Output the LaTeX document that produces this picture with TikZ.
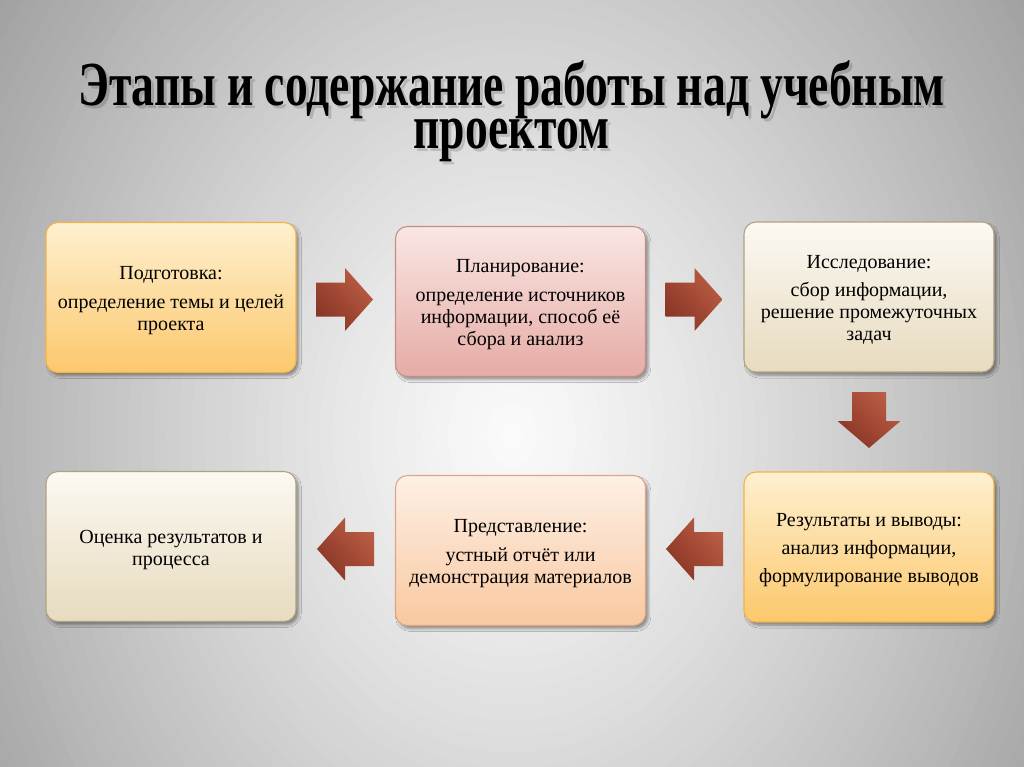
\documentclass[tikz,border=0pt]{standalone}
\usepackage{fontspec}
\setmainfont{Liberation Serif}
\usetikzlibrary{shadows.blur,shadings}
\newsavebox\titlebox
\newsavebox\titleboxb
\definecolor{bgOuter}{RGB}{163,163,163}
\definecolor{oTop}{HTML}{FEF0D0}
\definecolor{oBot}{HTML}{FCC86C}
\definecolor{oLine}{HTML}{F2B24A}
\definecolor{pTop}{HTML}{F9E6E3}
\definecolor{pBot}{HTML}{E6ABA5}
\definecolor{pLine}{HTML}{C48D86}
\definecolor{bTop}{HTML}{FCF9F2}
\definecolor{bBot}{HTML}{E7DBBF}
\definecolor{bLine}{HTML}{AFA184}
\definecolor{sTop}{HTML}{FDF0E6}
\definecolor{sBot}{HTML}{F9C89F}
\definecolor{sLine}{HTML}{DDA583}
\definecolor{aLight}{HTML}{C4664B}
\definecolor{aMid}{HTML}{A34834}
\definecolor{aDark}{HTML}{7E2E21}
\definecolor{titleInk}{HTML}{262626}
\newcommand\boxfont{\fontsize{15pt}{16.5pt}\selectfont}
\newcommand\titlefontsize{\fontsize{47pt}{32.3pt}\selectfont}
\newcommand\stagetext[1]{\raisebox{-2.4pt}[\height][\depth]{\begin{tabular}{@{}c@{}}#1\end{tabular}}}
\newcommand\titlelines{\lineskiplimit=-100pt\relax\scalebox{\tsx}[1]{\usebox\titlebox}\\\scalebox{\tsx}[1]{\usebox\titleboxb}}
\tikzset{
  stage/.style={draw, rounded corners=9pt, minimum width=187.5pt, minimum height=112.5pt,
    align=center, inner sep=0pt, font=\boxfont, line width=0.8pt,
    blur shadow={shadow xshift=2pt, shadow yshift=-2.5pt, shadow opacity=38, shadow blur radius=2pt}},
  orangebox/.style={stage, draw=oLine, top color=oTop, bottom color=oBot},
  pinkbox/.style={stage, draw=pLine, top color=pTop, bottom color=pBot},
  beigebox/.style={stage, draw=bLine, top color=bTop, bottom color=bBot},
  peachbox/.style={stage, draw=sLine, top color=sTop, bottom color=sBot},
  arrowshade/.style={upper right=aLight, lower left=aDark, upper left=aMid, lower right=aMid},
  rarrow/.pic={\shade[arrowshade] (-28,-17) -- (1,-17) -- (1,-31.5) -- (29,0) -- (1,31.5) -- (1,17) -- (-28,17) -- cycle;},
  larrow/.pic={\shade[arrowshade] (28,-17) -- (-1,-17) -- (-1,-31.5) -- (-29,0) -- (-1,31.5) -- (-1,17) -- (28,17) -- cycle;},
  darrow/.pic={\shade[arrowshade] (-17,-28) -- (-17,1) -- (-31.5,1) -- (0,28) -- (31.5,1) -- (17,1) -- (17,-28) -- cycle;},
  titletext/.style={anchor=north, inner sep=0pt, align=center, text=titleInk, font=\titlefontsize},
  titleshadow/.style={titletext, text=black, opacity=0.15}
}
\begin{document}
\sbox\titlebox{\fontsize{47pt}{47pt}\selectfont\bfseries Этапы и содержание работы над учебным}%
\sbox\titleboxb{\fontsize{47pt}{47pt}\selectfont\bfseries проектом}%
\pgfmathsetmacro\tsx{650/\the\wd\titlebox}%
\begin{tikzpicture}[x=0.75pt, y=-0.75pt]
\useasboundingbox (0,0) rectangle (1024,767);
% background: radial light-grey gradient built from concentric ellipses
\begin{scope}
\clip (0,0) rectangle (1024,767);
\fill[bgOuter] (0,0) rectangle (1024,767);
\foreach \k in {50,49,...,1}{
  \pgfmathsetmacro\rr{0.025*\k}
  \pgfmathtruncatemacro\gv{min(251,max(160,251-70*pow(\rr,1.2)))}
  \definecolor{bgstep}{RGB}{\gv,\gv,\gv}
  \fill[bgstep] (512,435) ellipse [x radius=384*\rr pt, y radius=476.25*\rr pt];
}
\end{scope}
% title
\node[titleshadow] (titles) at (514.5,63) {\titlelines};
\node[titletext] (title) at (511.5,60.5) {\titlelines};
% stages
\node[orangebox] (prep) at (171,297.5) {\stagetext{Подготовка:\\[5pt]определение темы и целей\\проекта}};
\node[pinkbox] (plan) at (520.5,301.5) {\stagetext{Планирование:\\[5pt]определение источников\\информации, способ её\\сбора и анализ}};
\node[beigebox] (research) at (869,297) {\stagetext{Исследование:\\[5pt]сбор информации,\\решение промежуточных\\задач}};
\node[orangebox] (results) at (869,547) {\stagetext{Результаты и выводы:\\[4.5pt]анализ информации,\\[4.5pt]формулирование выводов}};
\node[peachbox] (present) at (520.5,550.5) {\stagetext{Представление:\\[5pt]устный отчёт или\\демонстрация материалов}};
\node[beigebox] (assess) at (171,546.5) {\stagetext{Оценка результатов и\\процесса}};
% block arrows between the stages
\pic at (344,299.5) {rarrow};
\pic at (693.5,299.5) {rarrow};
\pic at (869,420) {darrow};
\pic at (695,549) {larrow};
\pic at (346,549) {larrow};
\end{tikzpicture}
\end{document}
